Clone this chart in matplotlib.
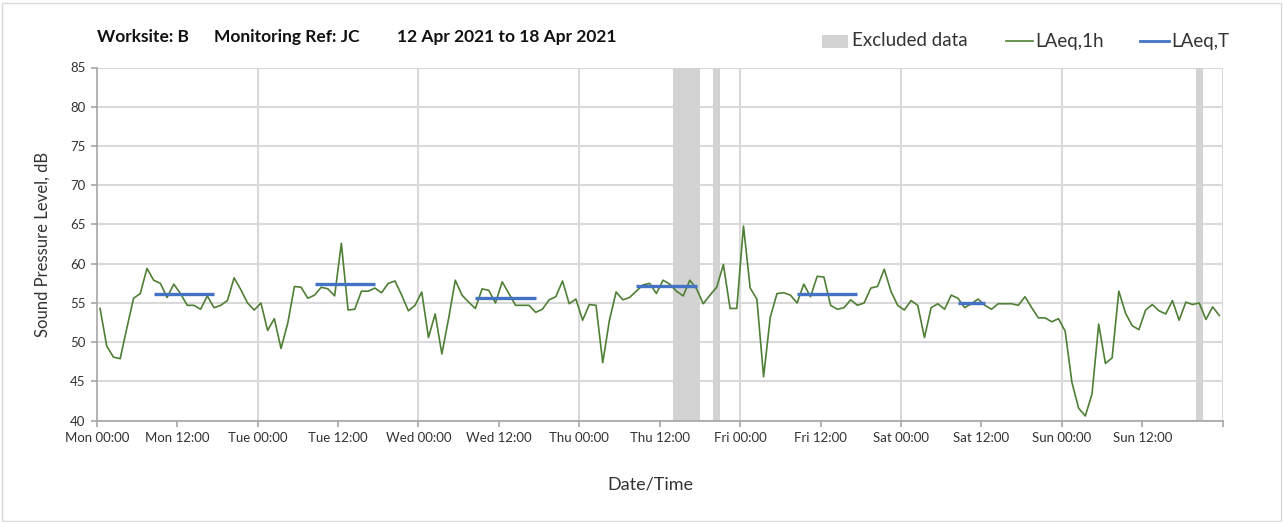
import matplotlib
matplotlib.use("Agg")
import matplotlib.pyplot as plt
from matplotlib.patches import Rectangle
from matplotlib.lines import Line2D

plt.rcParams['font.family'] = ['Lato', 'DejaVu Sans']

# hourly LAeq,1h values (hour 0 = Mon 00:00)
laeq_1h = [
    54.3, 49.5, 48.1, 47.9, 51.8, 55.6, 56.2, 59.4, 57.9, 57.5, 55.7, 57.4,
    56.2, 54.7, 54.7, 54.2, 55.9, 54.4, 54.7, 55.3, 58.2, 56.7, 55.0, 54.1,
    55.0, 51.5, 53.0, 49.2, 52.4, 57.1, 57.0, 55.6, 56.0, 57.0, 56.8, 55.9,
    62.6, 54.1, 54.2, 56.5, 56.5, 56.9, 56.3, 57.5, 57.8, 56.0, 54.0, 54.7,
    56.4, 50.6, 53.6, 48.5, 53.0, 57.9, 56.0, 55.1, 54.3, 56.8, 56.6, 55.0,
    57.7, 56.2, 54.7, 54.7, 54.7, 53.8, 54.2, 55.4, 55.8, 57.8, 54.9, 55.5,
    52.8, 54.8, 54.7, 47.4, 52.8, 56.4, 55.4, 55.7, 56.5, 57.3, 57.5, 56.2,
    57.9, 57.4, 56.5, 55.9, 57.9, 56.8, 54.9, 56.0, 57.0, 59.9, 54.3, 54.3,
    64.8, 56.9, 55.5, 45.6, 53.2, 56.2, 56.3, 56.0, 55.0, 57.4, 55.8, 58.4,
    58.3, 54.7, 54.2, 54.4, 55.4, 54.7, 55.0, 56.9, 57.1, 59.3, 56.5, 54.7,
    54.1, 55.3, 54.7, 50.6, 54.4, 54.9, 54.2, 56.0, 55.6, 54.4, 54.9, 55.5,
    54.7, 54.2, 54.9, 54.9, 54.9, 54.7, 55.8, 54.4, 53.1, 53.1, 52.6, 53.0,
    51.4, 44.9, 41.6, 40.6, 43.4, 52.3, 47.3, 48.0, 56.5, 53.7, 52.1, 51.6,
    54.1, 54.8, 54.0, 53.6, 55.3, 52.8, 55.1, 54.8, 55.0, 52.9, 54.5, 53.4,
]

# LAeq,T periods: first hour, last hour, level
laeq_t_start = [8, 32, 56, 80, 104, 128]
laeq_t_end = [17, 41, 65, 89, 113, 132]
laeq_t_value = [56.1, 57.4, 55.6, 57.2, 56.2, 55.0]

# excluded data periods (hours from Mon 00:00)
excluded_start = [86, 92, 164]
excluded_end = [90, 93, 165]

tick_hours = list(range(0, 157, 12))
tick_labels = ["Mon 00:00", "Mon 12:00", "Tue 00:00", "Tue 12:00", "Wed 00:00",
               "Wed 12:00", "Thu 00:00", "Thu 12:00", "Fri 00:00", "Fri 12:00",
               "Sat 00:00", "Sat 12:00", "Sun 00:00", "Sun 12:00"]

title_parts = ["Worksite: B", "Monitoring Ref: JC", "12 Apr 2021 to 18 Apr 2021"]

W, H = 1283, 522
fig = plt.figure(figsize=(W / 100, H / 100), dpi=100)
fig.patch.set_facecolor('white')
fig.patches.append(Rectangle((1.5 / W, 1.5 / H), (W - 4) / W, (H - 4) / H,
                             transform=fig.transFigure, fill=False,
                             edgecolor='#D9D9D9', linewidth=1.0))

left, right, top, bottom = 96.7, 1222.7, 67.5, 420.7
ax = fig.add_axes([left / W, (H - bottom) / H, (right - left) / W, (bottom - top) / H])

green = '#4F7F35'
blue = '#4472C4'
grid_c = '#D9D9D9'
excl_c = '#D3D3D3'

for s, e in zip(excluded_start, excluded_end):
    ax.axvspan(s, e, color=excl_c, lw=0, zorder=1)

for v in range(40, 86, 5):
    ax.axhline(v, color=grid_c, lw=1.5, zorder=0.5)
for hx in range(24, 169, 24):
    ax.axvline(hx, color=grid_c, lw=1.5, zorder=0.5)

xs = [h + 0.5 for h in range(len(laeq_1h))]
ax.plot(xs, laeq_1h, color=green, lw=1.2, zorder=3)

for s, e, v in zip(laeq_t_start, laeq_t_end, laeq_t_value):
    ax.plot([s + 0.5, e + 0.5], [v, v], color=blue, lw=2.4, solid_capstyle='butt', zorder=4)

ax.set_xlim(0, 168)
ax.set_ylim(40, 85)
ax.set_yticks(range(40, 86, 5))
ax.set_xticks(tick_hours + [168])
ax.set_xticklabels(tick_labels + [""])
for sp in ['top', 'right']:
    ax.spines[sp].set_visible(False)
for sp in ['left', 'bottom']:
    ax.spines[sp].set_color('#A6A6A6')
    ax.spines[sp].set_linewidth(1.2)
ax.tick_params(axis='both', colors='#A6A6A6', labelcolor='#333333', labelsize=9.5,
               length=4, width=1.2)
ax.tick_params(axis='x', pad=4)
ax.tick_params(axis='y', pad=4)

ax.set_ylabel("Sound Pressure Level, dB", fontsize=12, color='#333333', labelpad=14)
fig.text(650 / W, 1 - 484 / H, "Date/Time", fontsize=13, color='#333333',
         ha='center', va='center')

for xp, t in zip([97, 214, 397], title_parts):
    fig.text(xp / W, 1 - 37 / H, t, fontsize=12.5, fontweight='bold',
             color='#111111', ha='left', va='center')

# legend
ly = 1 - 41 / H
fig.patches.append(Rectangle((822 / W, 1 - 48 / H), 26 / W, 13 / H,
                             transform=fig.transFigure, color=excl_c, lw=0))
fig.text(852 / W, ly, "Excluded data", fontsize=13.5, color='#333333', ha='left', va='center')
fig.lines.append(Line2D([1006 / W, 1033 / W], [ly, ly], transform=fig.transFigure,
                        color=green, lw=1.2))
fig.text(1035 / W, ly, "LAeq,1h", fontsize=13.5, color='#333333', ha='left', va='center')
fig.lines.append(Line2D([1140 / W, 1169 / W], [ly, ly], transform=fig.transFigure,
                        color=blue, lw=2.0))
fig.text(1171 / W, ly, "LAeq,T", fontsize=13.5, color='#333333', ha='left', va='center')

fig.savefig("out.png", dpi=100)
